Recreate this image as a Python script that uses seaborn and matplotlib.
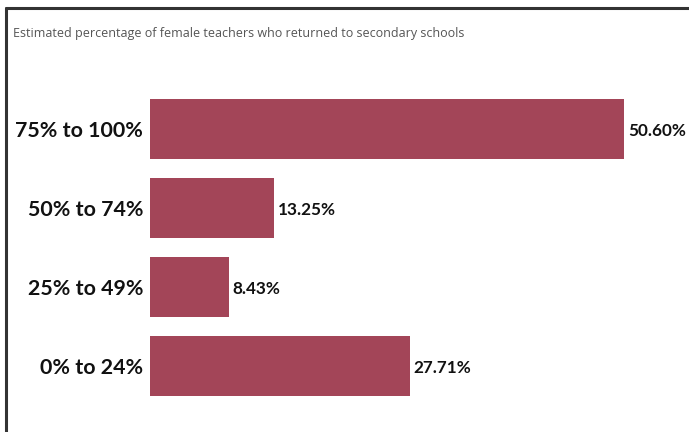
import matplotlib
matplotlib.use("Agg")
import matplotlib.pyplot as plt
from matplotlib.lines import Line2D
import seaborn as sns
import pandas as pd

# Survey share by return-rate band
categories = ["75% to 100%", "50% to 74%", "25% to 49%", "0% to 24%"]
shares = [50.60, 13.25, 8.43, 27.71]
value_labels = ["50.60%", "13.25%", "8.43%", "27.71%"]
title = "Estimated percentage of female teachers who returned to secondary schools"

df = pd.DataFrame({"band": categories, "share": shares})

sns.set_theme(style="white")
plt.rcParams["font.family"] = ["Open Sans", "DejaVu Sans"]
bold_family = ["Lato", "DejaVu Sans"]

W, H = 689, 432
fig = plt.figure(figsize=(W / 100, H / 100), dpi=100)
fig.patch.set_facecolor("white")

ax = fig.add_axes([150 / W, (H - 405.5) / H, (W - 150) / W, 316 / H])
sns.barplot(data=df, x="share", y="band", orient="h", color="#A34558",
            saturation=1, width=0.76, ax=ax, edgecolor="none")

ax.set_xlim(0, (W - 150) / 9.37)
ax.set_ylim(3.5, -0.5)
ax.set_xlabel("")
ax.set_ylabel("")
ax.set_xticks([])
for s in ax.spines.values():
    s.set_visible(False)
ax.tick_params(axis="y", length=0, pad=5)
ax.set_yticks(range(len(categories)))
ax.set_yticklabels(categories, fontsize=15.4, fontweight="bold",
                   family=bold_family, color="#111111")

for i, (v, lab) in enumerate(zip(shares, value_labels)):
    ax.text(v + 0.4, i + 0.02, lab, va="center", ha="left", fontsize=12.3,
            fontweight="bold", family=bold_family, color="#111111")

fig.text(13 / W, 1 - 33 / H, title, fontsize=9, color="#555555",
         va="center", ha="left")

# Frame edges along the top and left
fig.add_artist(Line2D([5.5 / W, 1.0], [1 - 8 / H, 1 - 8 / H],
                      color="#333333", linewidth=2.2, transform=fig.transFigure))
fig.add_artist(Line2D([5.5 / W, 5.5 / W], [0, 1 - 8 / H],
                      color="#333333", linewidth=2.2, transform=fig.transFigure))

fig.savefig("out.png", dpi=100)
